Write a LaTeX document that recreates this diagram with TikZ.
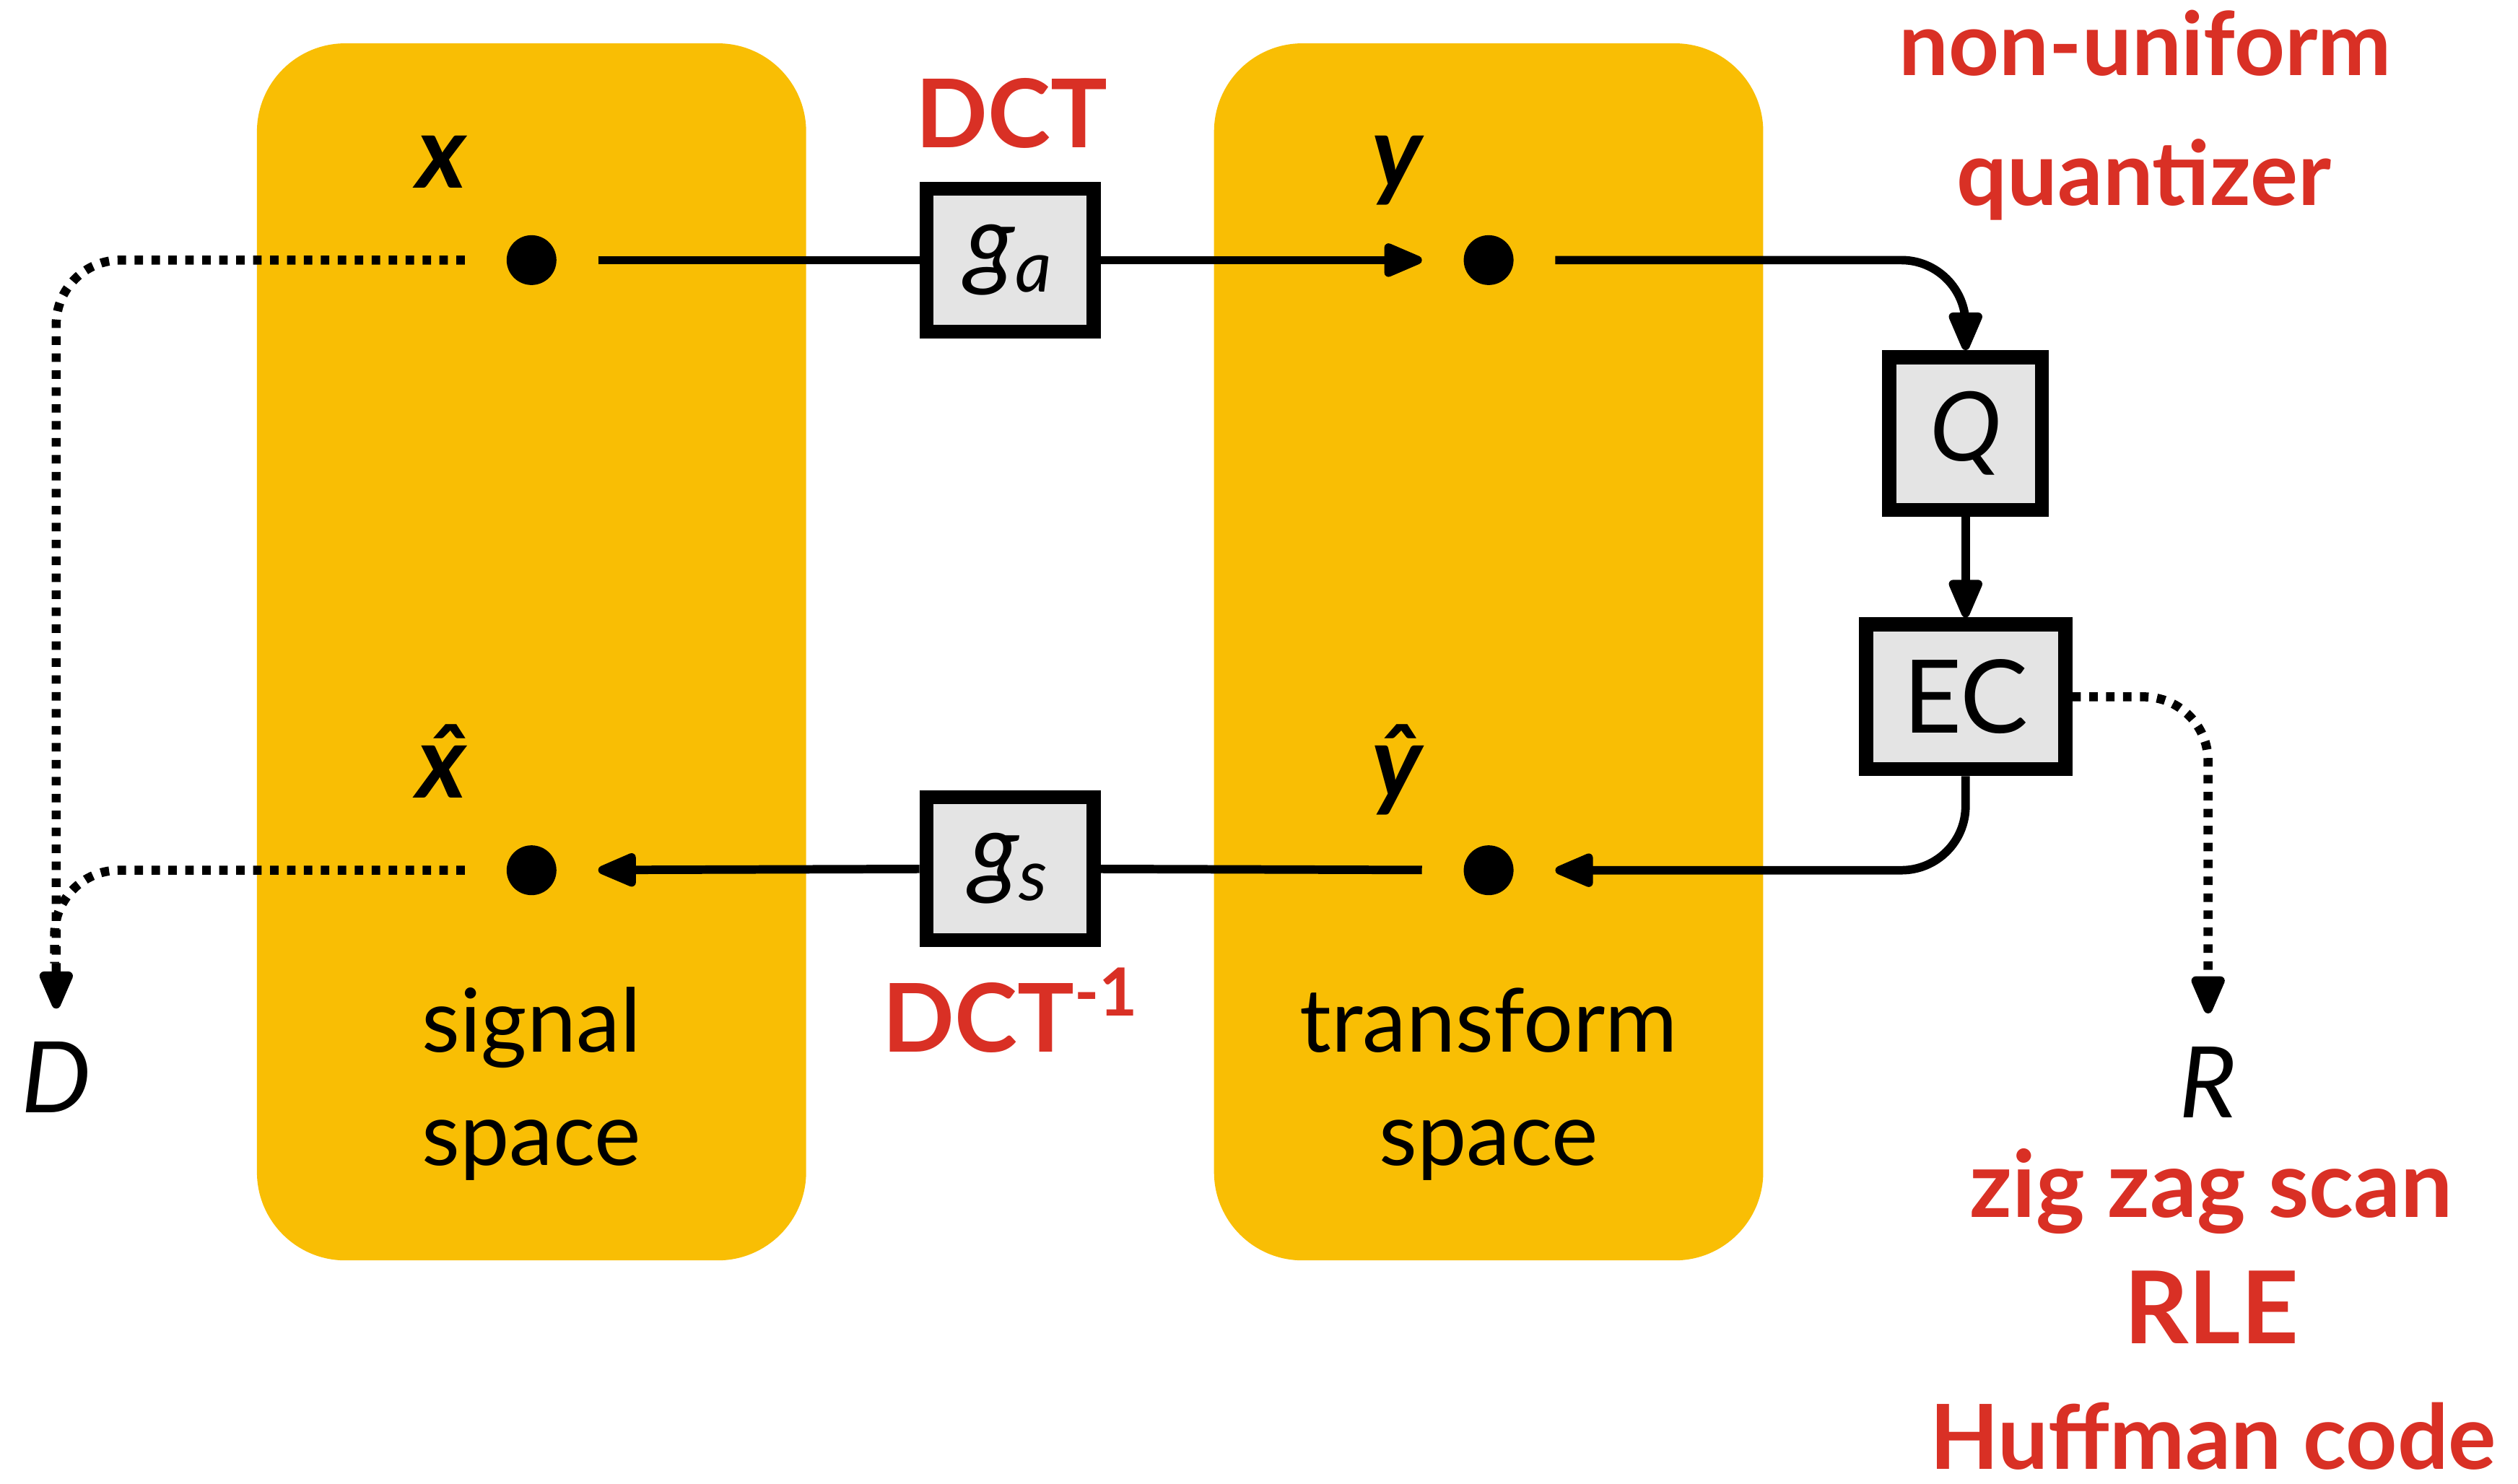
\documentclass[tikz,border=0pt]{standalone}
\usepackage{fontspec}
\setmainfont{Lato}
\usetikzlibrary{arrows.meta,calc}
\definecolor{spaceyellow}{RGB}{249,190,4}
\definecolor{redlabel}{RGB}{217,48,37}
\definecolor{boxgray}{RGB}{228,228,228}
\begin{document}
\begin{tikzpicture}[x=0.01cm,y=-0.01cm,
  txt/.style={font=\fontsize{15.6}{19}\selectfont, inner sep=0, anchor=base},
  redtxt/.style={text=redlabel, inner sep=0, anchor=base},
  var/.style={font=\fontsize{18}{20}\selectfont\bfseries\itshape, inner sep=0, anchor=base},
  ital/.style={font=\fontsize{17.5}{19}\selectfont\itshape, inner sep=0, anchor=base},
  dotnode/.style={circle, fill=black, inner sep=0, minimum size=0.31cm, outer sep=0.26cm},
  block/.style={draw, line width=2.5pt, fill=boxgray, inner sep=0, font=\fontsize{18}{20}\selectfont},
  conn/.style={line width=1.5pt},
  tip/.style={-{Triangle[length=0.28cm,width=0.22cm,round]}},
  arr/.style={conn, tip},
  dots/.style={line width=1.6pt, dash pattern=on 1.5pt off 1.5pt},
  space/.style={fill=spaceyellow, rounded corners=0.55cm}
]
\useasboundingbox (0,0) rectangle (1568,924);

% yellow spaces
\fill[space] (160,27) rectangle (502,785);
\fill[space] (756,27) rectangle (1098,785);

% dots
\node[dotnode] (x) at (331,162) {};
\node[dotnode] (y) at (927,162) {};
\node[dotnode] (xh) at (331,542) {};
\node[dotnode] (yh) at (927,542) {};

% variable labels
\node[var] (xl) at (275,117) {x};
\node[var] (yl) at (870,117) {y};
\node[var] (xhl) at (275,497) {\^{x}};
\node[var] (yhl) at (870,497) {\^{y}};

% blocks
\node[block, minimum width=1.04cm, minimum height=0.89cm] (ga) at (629,162) {\itshape g\textsubscript{a}};
\node[block, minimum width=1.04cm, minimum height=0.89cm] (gs) at (629,541) {\itshape g\textsubscript{s}};
\node[block, minimum width=0.95cm, minimum height=0.95cm, font=\fontsize{17}{20}\selectfont] (Q) at (1224,270) {\itshape Q};
\node[block, minimum width=1.24cm, minimum height=0.9cm] (EC) at (1224,434) {EC};

% space labels
\node[txt] (sig1) at (331,655) {signal};
\node[txt] (sig2) at (331,726) {space};
\node[txt] (tr1) at (927,655) {transform};
\node[txt] (tr2) at (927,726) {space};

% D and R
\node[ital] (D) at (35,693) {D};
\node[ital] (R) at (1375,696) {R};
\coordinate (Dm) at (34,600);

% red labels
\node[redtxt, font=\fontsize{16.8}{20}\selectfont\bfseries] (dct) at (630,92) {DCT};
\node[redtxt, font=\fontsize{16.8}{20}\selectfont\bfseries] (idct) at (630,655) {DCT\textsuperscript{-1}};
\node[redtxt, font=\fontsize{15.6}{19}\selectfont\bfseries] (nu) at (1336,47) {non-uniform};
\node[redtxt, font=\fontsize{15.8}{19}\selectfont\bfseries] (qz) at (1335,128) {quantizer};
\node[redtxt, font=\fontsize{16.4}{19}\selectfont\bfseries] (zz) at (1377,758) {zig zag scan};
\node[redtxt, font=\fontsize{17.8}{19}\selectfont\bfseries] (rle) at (1377,837) {RLE};
\node[redtxt, font=\fontsize{15.9}{19}\selectfont\bfseries] (huf) at (1378,915) {Huffman code};

% connectors
\draw[conn] (x) -- (ga);
\draw[arr] (ga) -- (y);
\draw[arr, rounded corners=0.4cm] (y) -| (Q);
\draw[arr] (Q) -- (EC);
\draw[arr, rounded corners=0.4cm] (EC) |- (yh);
\draw[conn] (yh) -- (gs);
\draw[arr] (gs) -- (xh);

% dotted
\draw[dots, tip, rounded corners=0.4cm, shorten >=0.2cm] (x) -| (D);
\draw[dots, rounded corners=0.4cm] (xh) -| (Dm);
\draw[dots, tip, rounded corners=0.4cm, shorten >=0.2cm] (EC) -| (R);
\end{tikzpicture}
\end{document}
